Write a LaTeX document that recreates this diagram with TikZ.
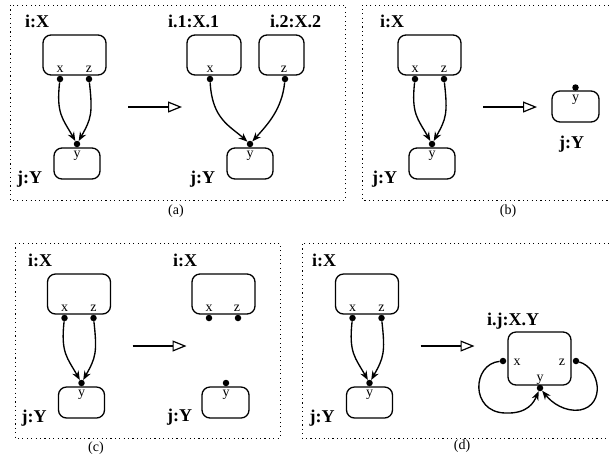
\documentclass[tikz,border=0pt]{standalone}
\usepackage{fontspec}
\setmainfont{Liberation Serif}
\usepackage{tikz}
\usetikzlibrary{arrows.meta}
\tikzstyle{comp}=[draw=black, rounded corners=8pt, line width=1.3pt]
\tikzstyle{port}=[circle, inner sep=0pt, minimum size=6.5pt, fill=black]
\tikzstyle{plabel}=[inner sep=0pt, anchor=base, font=\fontsize{14}{16}\selectfont]
\tikzstyle{inst}=[inner sep=0pt, anchor=base west, font=\fontsize{18}{20}\selectfont\bfseries]
\tikzstyle{conn}=[line width=1.35pt, -{Stealth[length=9pt, width=7pt]}]
\tikzstyle{trans}=[line width=1.2pt, -{Triangle[open, length=14pt, width=11pt, line width=1.2pt]}]
\tikzstyle{frame}=[line width=1pt, dash pattern=on 1.1pt off 3.3pt]
\tikzstyle{capt}=[font=\fontsize{14}{16}\selectfont]

\begin{document}
\begin{tikzpicture}[
    x=1pt, y=-1pt]

      \useasboundingbox (0,0) rectangle (609,459);

      % frames
      \draw[frame] (10,5) rectangle (345,200);
      \draw[frame] (609,5) -- (362,5) -- (362,200) -- (609,200);
      \draw[frame] (15,243) rectangle (280,438);
      \draw[frame] (609,243) -- (302,243) -- (302,438) -- (609,438);

      \node[capt] (capa) at (176,211) {(a)};
      \node[capt] (capb) at (508,211) {(b)};
      \node[capt] (capc) at (96,448) {(c)};
      \node[capt] (capd) at (462,446) {(d)};

      % i:X -> j:Y, left part of every panel
      \foreach \p/\dx/\dy/\lx in {a/0/0/25, b/355/0/25, c/4.5/239/23.5, d/292.5/239/19.5}{
        \begin{scope}[shift={(\dx,\dy)}, name prefix=\p-]
        \node[comp, minimum width=63, minimum height=40] (i) at (74.5,55) {};
        \node[inst] (il) at (\lx,27) {i:X};
        \node[plabel] (xl) at (60,72) {x};
        \node[plabel] (zl) at (89,72) {z};
        \node[port] (x) at (60,79) {};
        \node[port] (z) at (89,79) {};

        \node[comp, minimum width=46, minimum height=31] (j) at (77,163.5) {};
        \node[plabel] (yl) at (77,157.5) {y};
        \node[port] (y) at (77,144) {};
        \node[inst] (jl) at (17,183) {j:Y};

        \draw[conn] (x) .. controls +(-4,35) and +(-14,-25) .. (y);
        \draw[conn] (z) .. controls +(4,35) and +(14,-25) .. (y);

        \coordinate (s) at (128,107);
        \coordinate (t) at (182,107);
        \draw[trans] (s) -- (t);
        \end{scope}
      }

      % (a) split
      \node[comp, minimum width=54, minimum height=40] (a-i1) at (214,55) {};
      \node[inst] (a-i1l) at (168,27) {i.1:X.1};
      \node[plabel] (a-x1l) at (210,72) {x};
      \node[port] (a-x1) at (210,79) {};

      \node[comp, minimum width=45, minimum height=40] (a-i2) at (281.5,55) {};
      \node[inst] (a-i2l) at (270,27) {i.2:X.2};
      \node[plabel] (a-z2l) at (284,72) {z};
      \node[port] (a-z2) at (285,79) {};

      \node[comp, minimum width=46, minimum height=31] (a-j2) at (250,163.5) {};
      \node[plabel] (a-y2l) at (250,157.5) {y};
      \node[port] (a-y2) at (250,144) {};
      \node[inst] (a-j2l) at (190,183) {j:Y};

      \draw[conn] (a-x1) .. controls +(2,40) and +(-20,-18) .. (a-y2);
      \draw[conn] (a-z2) .. controls +(-3,30) and +(18,-20) .. (a-y2);

      % (b) delete
      \node[comp, minimum width=47, minimum height=31] (b-j2) at (575.5,106.5) {};
      \node[plabel] (b-y2l) at (575.5,101.5) {y};
      \node[port] (b-y2) at (575.5,87.5) {};
      \node[inst] (b-j2l) at (559,148) {j:Y};

      % (c) disconnect
      \node[comp, minimum width=63, minimum height=40] (c-i2) at (223.5,294) {};
      \node[inst] (c-i2l) at (173,266) {i:X};
      \node[plabel] (c-x2l) at (209,311) {x};
      \node[plabel] (c-z2l) at (237,311) {z};
      \node[port] (c-x2) at (209,318) {};
      \node[port] (c-z2) at (238,318) {};

      \node[comp, minimum width=47, minimum height=31] (c-j2) at (225.5,402.5) {};
      \node[plabel] (c-y2l) at (226,396.5) {y};
      \node[port] (c-y2) at (226,383) {};
      \node[inst] (c-j2l) at (167,421) {j:Y};

      % (d) merge
      \node[comp, minimum width=63, minimum height=53] (d-ij) at (539.5,358.5) {};
      \node[inst] (d-ijl) at (487,325) {i.j:X.Y};
      \node[plabel] (d-xl) at (517,365) {x};
      \node[plabel] (d-zl) at (562,365) {z};
      \node[plabel] (d-yl) at (540,381) {y};
      \node[port] (d-x) at (503,361) {};
      \node[port] (d-z) at (576,361) {};
      \node[port] (d-y) at (540,388) {};

      \draw[conn] (d-x) .. controls (472,364) and (470,412) .. (505,413)
                        .. controls (528,414) and (534,402) .. (d-y);
      \draw[conn] (d-z) .. controls (600,368) and (606,405) .. (580,410)
                        .. controls (565,412) and (552,403) .. (d-y);

    \end{tikzpicture}
\end{document}
